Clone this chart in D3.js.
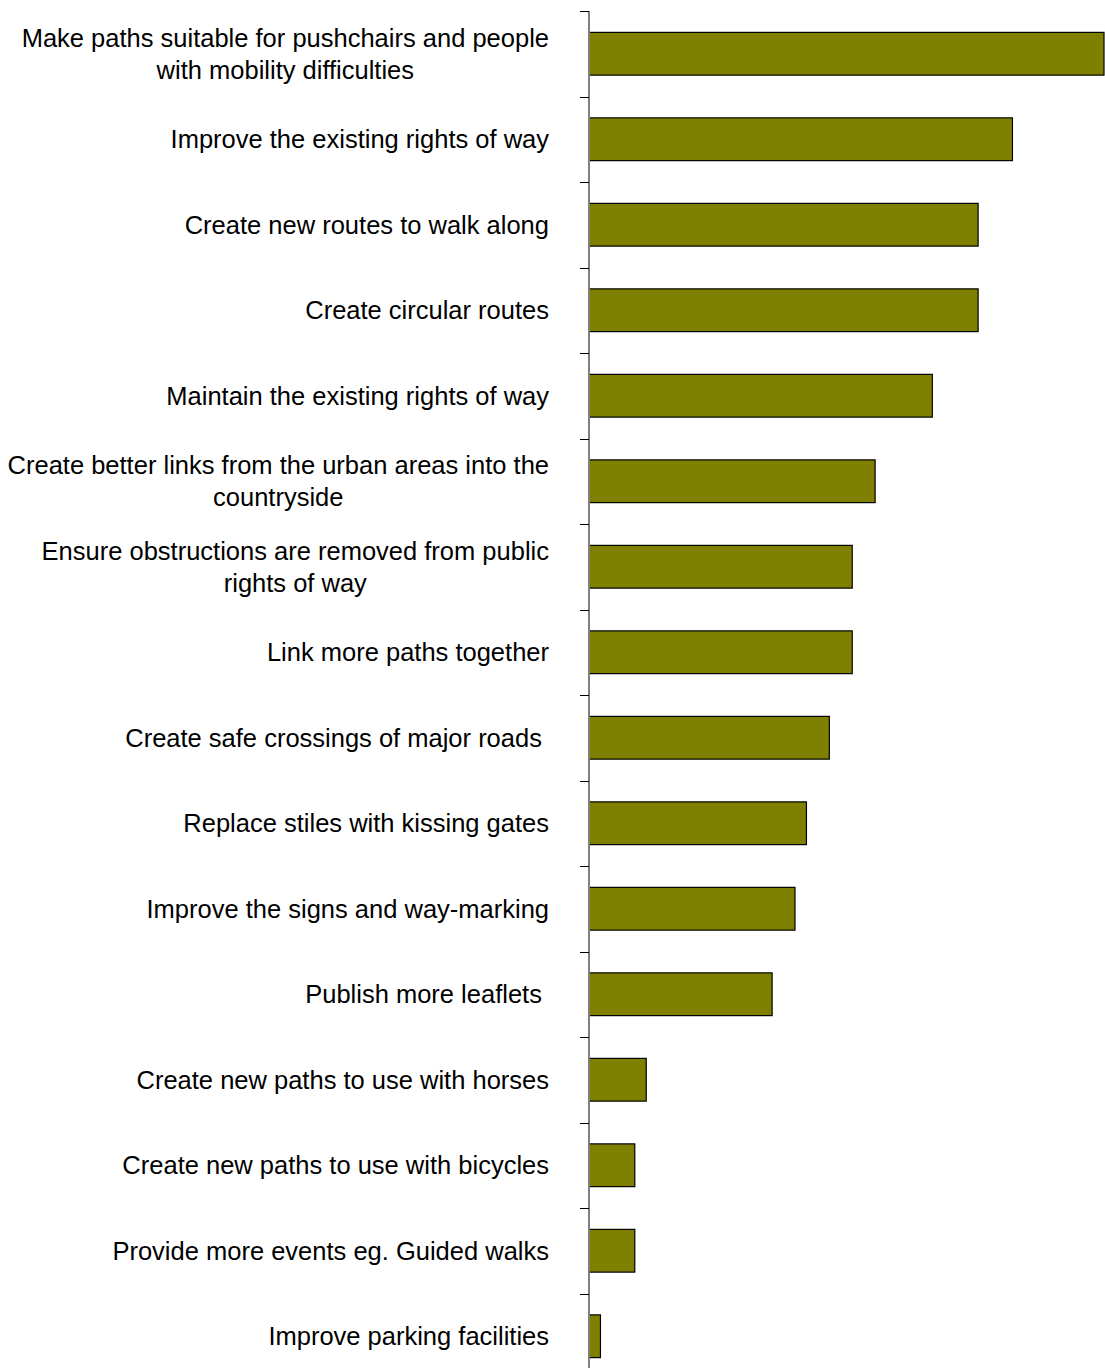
<!DOCTYPE html>
<html>
<head>
<meta charset="utf-8">
<script src="https://cdn.jsdelivr.net/npm/d3@7"></script>
<style>
  html, body { margin: 0; padding: 0; background: #fff; }
  svg { display: block; }
  text { font-family: "Liberation Sans", Arial, sans-serif; fill: #000; }
</style>
</head>
<body>
<svg id="chart" width="1105" height="1368"></svg>
<script>
// Category labels (lines), top to bottom
const categories = [
  ["Make paths suitable for pushchairs and people", "with mobility difficulties"],
  ["Improve the existing rights of way"],
  ["Create new routes to walk along"],
  ["Create circular routes"],
  ["Maintain the existing rights of way"],
  ["Create better links from the urban areas into the", "countryside"],
  ["Ensure obstructions are removed from public", "rights of way"],
  ["Link more paths together"],
  ["Create safe crossings of major roads "],
  ["Replace stiles with kissing gates"],
  ["Improve the signs and way-marking"],
  ["Publish more leaflets "],
  ["Create new paths to use with horses"],
  ["Create new paths to use with bicycles"],
  ["Provide more events eg. Guided walks"],
  ["Improve parking facilities"]
];
const values = [45, 37, 34, 34, 30, 25, 23, 23, 21, 19, 18, 16, 5, 4, 4, 1];

const svg = d3.select("#chart");
const x0 = 589, x1 = 1104;
const yTop = 11, step = 85.5;
const ids = categories.map((d, i) => i);

const x = d3.scaleLinear().domain([0, 45]).range([x0, x1]);
const y = d3.scaleBand().domain(ids).range([yTop, yTop + step * ids.length]).paddingInner(0.5).paddingOuter(0.25);

// bars
svg.append("g").selectAll("rect").data(values).join("rect")
  .attr("x", x(0))
  .attr("y", (d, i) => y(i))
  .attr("width", d => x(d) - x(0))
  .attr("height", y.bandwidth())
  .attr("fill", "#808000")
  .attr("stroke", "#000")
  .attr("stroke-width", 1.2);

// axis line
svg.append("line")
  .attr("x1", x0).attr("x2", x0)
  .attr("y1", yTop).attr("y2", yTop + step * ids.length)
  .attr("stroke", "#808080").attr("stroke-width", 2);

// ticks at category boundaries
const bounds = d3.range(ids.length + 1).map(i => yTop + i * step);
svg.append("g").selectAll("line").data(bounds).join("line")
  .attr("x1", x0 - 9).attr("x2", x0)
  .attr("y1", d => Math.round(d) + 0.5).attr("y2", d => Math.round(d) + 0.5)
  .attr("stroke", "#000").attr("stroke-width", 1);

// labels
const fs = 25.5, lh = 32;
const lab = svg.append("g").selectAll("g").data(categories).join("g")
  .attr("transform", (d, i) => `translate(0,${y(i) + y.bandwidth() / 2})`);
lab.each(function(lines) {
  const g = d3.select(this);
  const n = lines.length;
  const texts = lines.map((t, k) => g.append("text")
    .attr("xml:space", "preserve")
    .style("white-space", "pre")
    .attr("font-size", fs)
    .attr("dy", "0.35em")
    .attr("y", (k - (n - 1) / 2) * lh)
    .text(t));
  const widths = texts.map(t => t.node().getComputedTextLength());
  const maxW = d3.max(widths);
  const cx = 549 - maxW / 2;
  texts.forEach(t => t.attr("x", cx).attr("text-anchor", "middle"));
});
</script>
</body>
</html>
